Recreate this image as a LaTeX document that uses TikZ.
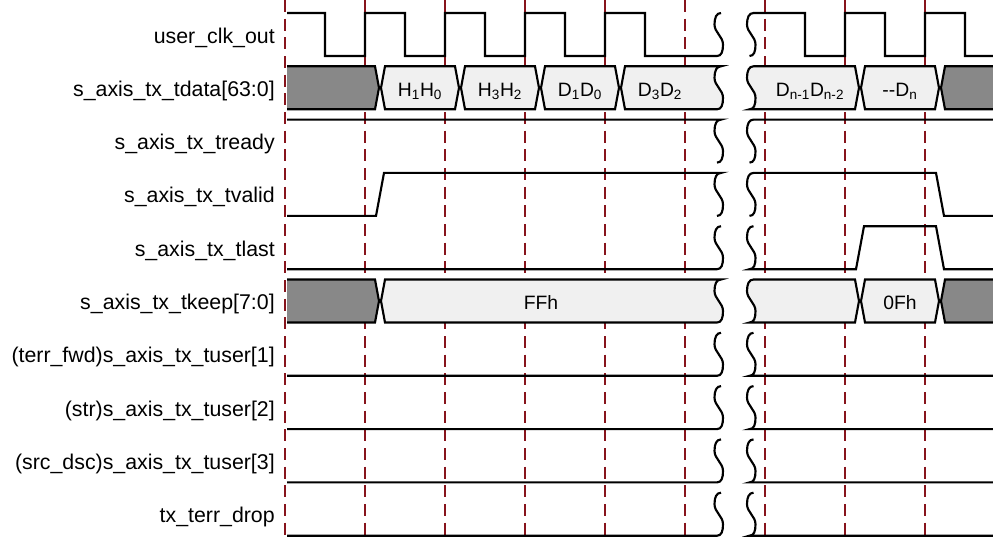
\documentclass[tikz,border=0pt]{standalone}
\usepackage{fontspec}
\setmainfont{Liberation Sans}

\definecolor{gridred}{RGB}{135,20,28}
\definecolor{idlegray}{RGB}{136,136,136}
\definecolor{datagray}{RGB}{240,240,240}

% break mark: from the top (#1+2.5,#2-21.5) down to the bottom (#1-1.5,#2+21.5)
\newcommand{\brkdn}[2]{.. controls (#1-2,#2-21.5) and (#1-4,#2-17) .. (#1-4,#2-10) .. controls (#1-4,#2-2) and (#1+4.5,#2+2) .. (#1+4.5,#2+10) .. controls (#1+4.5,#2+17) and (#1+3,#2+21.5) .. (#1-1.5,#2+21.5)}
% same mark, walked upwards
\newcommand{\brkup}[2]{.. controls (#1+3,#2+21.5) and (#1+4.5,#2+17) .. (#1+4.5,#2+10) .. controls (#1+4.5,#2+2) and (#1-4,#2-2) .. (#1-4,#2-10) .. controls (#1-4,#2-17) and (#1-2,#2-21.5) .. (#1+2.5,#2-21.5)}

\begin{document}
\begin{tikzpicture}[
		x = 0.75pt, y = -0.75pt,
		wave/.style = {line width=1.6pt},
		clkedge/.style = {gridred, line width=0.9pt, dash pattern=on 9pt off 5pt},
		idle/.style = {wave, fill=idlegray},
		bus/.style = {wave, fill=datagray},
		signame/.style = {anchor=base east, inner sep=0, font=\fontsize{16}{19}\selectfont},
		busval/.style = {anchor=base, inner sep=0, font=\fontsize{14.5}{17}\selectfont}
	]

	\useasboundingbox (0,0) rectangle (993,537);

	\foreach \x in {285,365,...,925}{
		\draw[clkedge] (\x,0) -- (\x,537);
	}

	\foreach \i/\txt in {0/user\_clk\_out, 1/s\_axis\_tx\_tdata[63:0], 2/s\_axis\_tx\_tready, 3/s\_axis\_tx\_tvalid, 4/s\_axis\_tx\_tlast, 5/s\_axis\_tx\_tkeep[7:0], 6/(terr\_fwd)s\_axis\_tx\_tuser[1], 7/(str)s\_axis\_tx\_tuser[2], 8/(src\_dsc)s\_axis\_tx\_tuser[3], 9/tx\_terr\_drop}{
		\node[signame] (lbl\i) at (275,{43+53.3*\i}) {\txt};
	}

	% user_clk_out
	\draw[wave] (287,13) -| (325,56) -| (365,13) -| (405,56) -| (445,13) -| (485,56) -| (525,13) -| (565,56) -| (605,13) -| (645,56) -- (717,56) \brkup{718.5}{34.5};
	\draw[wave] (749.5,56) \brkup{751}{34.5} -| (805,56) -| (845,13) -| (885,56) -| (925,13) -| (965,56) -- (993,56);

	% tdata
	\filldraw[idle] (287,66.3) -- (375,66.3) -- (379,87.8) -- (375,109.3) -- (287,109.3);
	\foreach \a/\b/\txt in {380/460/H\textsubscript{1}H\textsubscript{0}, 460/540/H\textsubscript{3}H\textsubscript{2}, 540/620/D\textsubscript{1}D\textsubscript{0}}{
		\filldraw[bus] (\a+5,66.3) -- (\b-5,66.3) -- (\b-1,87.8) -- (\b-5,109.3) -- (\a+5,109.3) -- (\a+1,87.8) -- cycle;
		\node[busval] (tdata\a) at ({(\a+\b)/2},96.3) {\txt};
	}
	\filldraw[bus] (625,66.3) -- (721,66.3) \brkdn{718.5}{87.8} -- (625,109.3) -- (621,87.8) -- cycle;
	\node[busval] (tdata620) at (660,96.3) {D\textsubscript{3}D\textsubscript{2}};
	\filldraw[bus] (753.5,66.3) -- (855,66.3) -- (859,87.8) -- (855,109.3) -- (749.5,109.3) \brkup{751}{87.8} -- cycle;
	\node[busval] (tdata750) at (810,96.3) {D\textsubscript{n-1}D\textsubscript{n-2}};
	\filldraw[bus] (865,66.3) -- (935,66.3) -- (939,87.8) -- (935,109.3) -- (865,109.3) -- (861,87.8) -- cycle;
	\node[busval] (tdata860) at (900,96.3) {-{}-D\textsubscript{n}};
	\filldraw[idle] (993,66.3) -- (945,66.3) -- (941,87.8) -- (945,109.3) -- (993,109.3);

	% tready
	\draw[wave] (287,119.6) -- (721,119.6) \brkdn{718.5}{141.1};
	\draw[wave] (749.5,162.6) \brkup{751}{141.1} -- (993,119.6);

	% tvalid
	\draw[wave] (287,215.9) -- (376,215.9) -- (384,172.9) -- (721,172.9) \brkdn{718.5}{194.4};
	\draw[wave] (749.5,215.9) \brkup{751}{194.4} -- (936,172.9) -- (944,215.9) -- (993,215.9);

	% tlast
	\draw[wave] (287,269.2) -- (717,269.2) \brkup{718.5}{247.7};
	\draw[wave] (753.5,226.2) \brkdn{751}{247.7} -- (856,269.2) -- (864,226.2) -- (936,226.2) -- (944,269.2) -- (993,269.2);

	% tkeep
	\filldraw[idle] (287,279.5) -- (375,279.5) -- (379,301) -- (375,322.5) -- (287,322.5);
	\filldraw[bus] (385,279.5) -- (721,279.5) \brkdn{718.5}{301} -- (385,322.5) -- (381,301) -- cycle;
	\node[busval] (tkeep380) at (541,309.5) {FFh};
	\filldraw[bus] (753.5,279.5) -- (855,279.5) -- (859,301) -- (855,322.5) -- (749.5,322.5) \brkup{751}{301} -- cycle;
	\filldraw[bus] (865,279.5) -- (935,279.5) -- (939,301) -- (935,322.5) -- (865,322.5) -- (861,301) -- cycle;
	\node[busval] (tkeep860) at (900,309.5) {0Fh};
	\filldraw[idle] (993,279.5) -- (945,279.5) -- (941,301) -- (945,322.5) -- (993,322.5);

	% tuser and terr_drop stay low
	\foreach \i in {6,...,9}{
		\pgfmathsetmacro\rowT{13+53.3*\i}
		\pgfmathsetmacro\rowM{\rowT+21.5}
		\pgfmathsetmacro\rowB{\rowT+43}
		\draw[wave] (287,\rowB) -- (717,\rowB) \brkup{718.5}{\rowM};
		\draw[wave] (753.5,\rowT) \brkdn{751}{\rowM} -- (993,\rowB);
	}

\end{tikzpicture}
\end{document}
